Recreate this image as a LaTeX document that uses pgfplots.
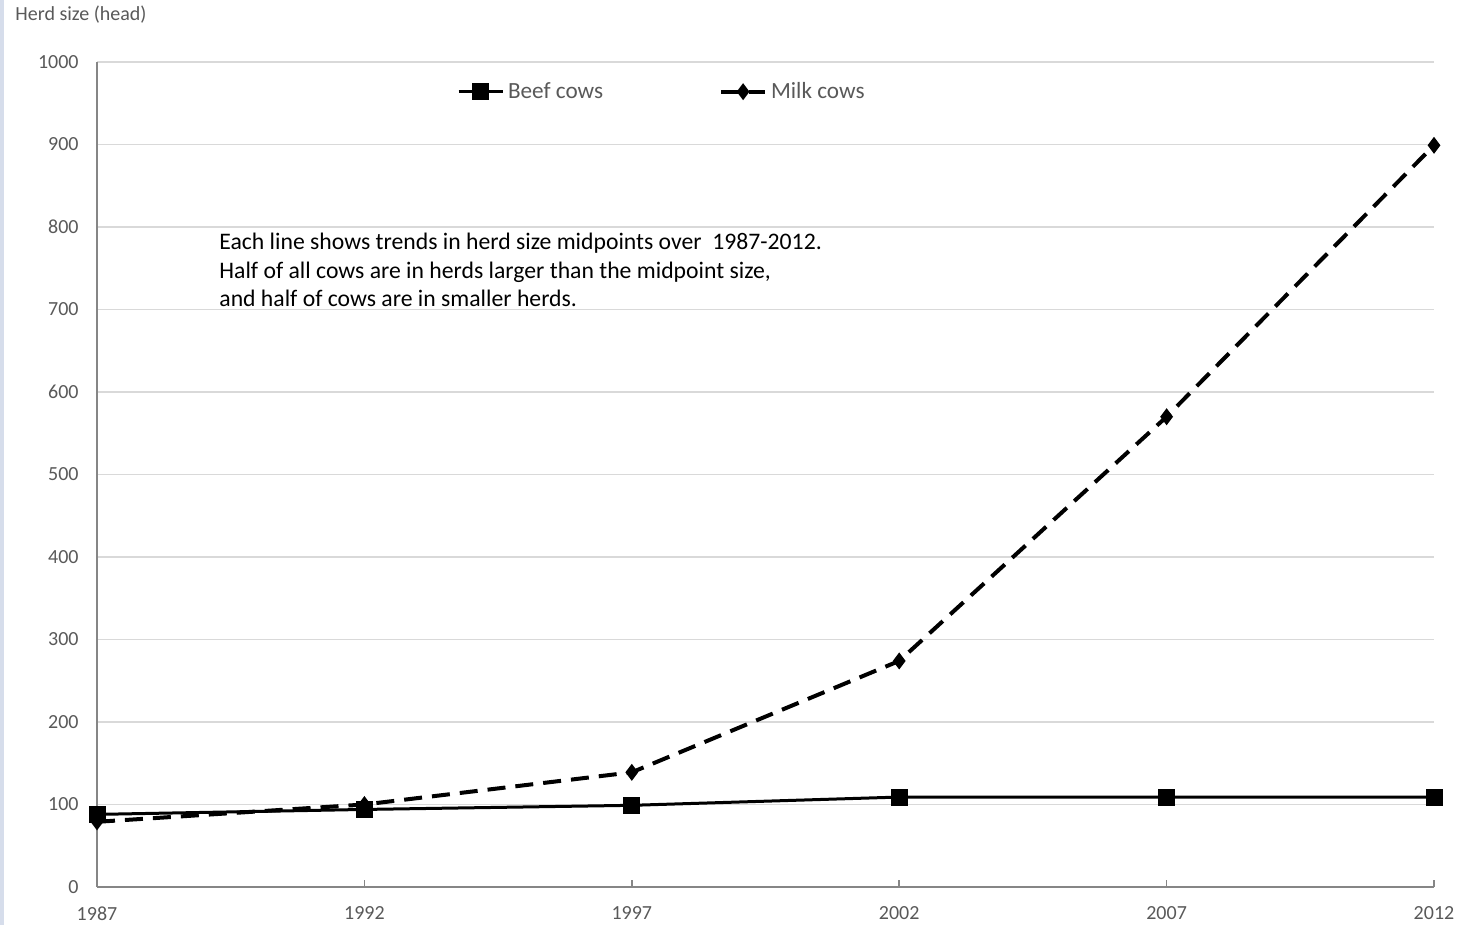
\documentclass[border=0pt]{standalone}
\usepackage{fontspec}
\setmainfont{Carlito}
\usepackage{pgfplots}
\pgfplotsset{compat=1.18}
\definecolor{tickgray}{HTML}{595959}
\definecolor{axisgray}{HTML}{868686}
\definecolor{gridgray}{HTML}{D9D9D9}
\definecolor{stripblue}{HTML}{D6DDEB}
\begin{document}
\begin{tikzpicture}
\path[use as bounding box] (0,0) rectangle (733pt,462.5pt);
\fill[stripblue] (0,0) rectangle (2pt,462.5pt);
\begin{axis}[
  at={(48.5pt,19pt)}, anchor=south west,
  scale only axis, width=668.5pt, height=412.5pt,
  xmin=1987, xmax=2012, ymin=0, ymax=1000,
  xtick={1987,1992,1997,2002,2007,2012},
  ytick={0,100,200,300,400,500,600,700,800,900,1000},
  axis lines*=left,
  axis line style={axisgray, line width=0.75pt},
  ymajorgrids, grid style={gridgray, line width=0.6pt},
  tick align=inside, major tick length=3.5pt,
  xtick style={axisgray, line width=0.75pt},
  ytick style={draw=none},
  ticklabel style={font=\fontsize{10}{12}\selectfont, text=tickgray},
  yticklabel style={inner xsep=0pt, xshift=-9pt},
  xticklabel style={inner ysep=0pt, yshift=-9.5pt},
  /pgf/number format/assume math mode=true,
  /pgf/number format/1000 sep={},
  clip=false,
  legend columns=2,
  legend style={at={(0.269,0.964)}, anchor=west, draw=none, fill=none,
    inner sep=0pt, font=\fontsize{11.6}{14}\selectfont, text=tickgray,
    /tikz/every even column/.append style={column sep=56pt}},
  legend image code/.code={\draw[mark repeat=2,mark phase=2,#1] plot coordinates {(0pt,0pt) (11pt,0pt) (22pt,0pt)};},
]
\addplot[black, line width=1.5pt, mark=square*, mark size=3.5pt]
  coordinates {(1987,88) (1992,94) (1997,99) (2002,109) (2007,109) (2012,109)};
\addlegendentry{Beef cows}
\addplot[black, line width=2pt, dash pattern=on 9pt off 5pt, mark=diamond*, mark size=2.6pt, mark options={solid}]
  coordinates {(1987,79) (1992,100) (1997,139) (2002,274) (2007,570) (2012,899)};
\addlegendentry{Milk cows}
\end{axis}
\node[anchor=west, inner sep=0pt, text=tickgray, font=\fontsize{10}{12}\selectfont] at (7.5pt,455pt) {Herd size (head)};
\node[anchor=north west, inner sep=0pt, align=left, font=\fontsize{11.85}{14.25}\selectfont] at (109.5pt,346pt)
  {Each line shows trends in herd size midpoints over\ \ 1987-2012.\\Half of all cows are in herds larger than the midpoint size,\\and half of cows are in smaller herds.};
\end{tikzpicture}
\end{document}
